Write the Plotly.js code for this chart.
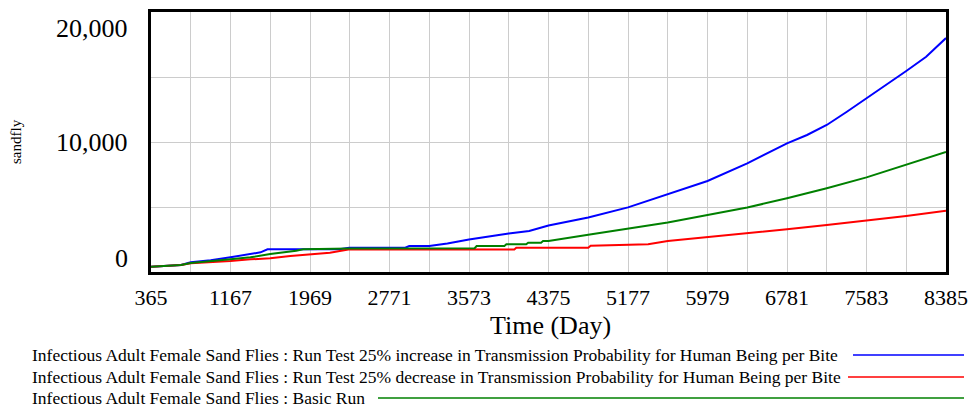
<!DOCTYPE html>
<html>
<head>
<meta charset="utf-8">
<script src="https://cdn.plot.ly/plotly-3.0.1.min.js"></script>
<style>
  html, body { margin: 0; padding: 0; background: #ffffff; }
  #chart { width: 977px; height: 410px; }
</style>
</head>
<body>
<div id="chart"></div>
<script>
// ---- Data ----
const blueDays = [365, 668, 766, 967, 1167, 1368, 1470, 1540, 2265, 2365, 2930, 2970, 3172, 3355, 3573, 3974, 4180, 4375, 4776, 5177, 5578, 5979, 6380, 6781, 6983, 7182, 7385, 7583, 7785, 7984, 8185, 8385];
const blueVals = [410, 540, 745, 900, 1130, 1360, 1515, 1745, 1745, 1870, 1870, 2000, 2000, 2200, 2500, 2960, 3150, 3580, 4200, 4970, 6000, 7000, 8350, 9900, 10540, 11310, 12330, 13360, 14380, 15460, 16560, 18000];

const redDays = [365, 668, 766, 967, 1167, 1368, 1568, 1770, 1969, 2170, 2370, 4030, 4050, 4776, 4800, 5177, 5380, 5578, 5979, 6380, 6781, 7182, 7583, 7984, 8385];
const redVals = [410, 540, 680, 745, 845, 975, 1050, 1230, 1380, 1480, 1745, 1730, 1870, 1870, 2020, 2070, 2130, 2380, 2670, 2950, 3280, 3610, 3950, 4310, 4720];

const greenDays = [365, 668, 766, 967, 1167, 1368, 1568, 1830, 1900, 2370, 3172, 3630, 3650, 3930, 3950, 4150, 4170, 4300, 4320, 4375, 4776, 5177, 5578, 5979, 6380, 6781, 7182, 7583, 7984, 8385];
const greenVals = [410, 540, 700, 820, 975, 1130, 1380, 1640, 1745, 1800, 1820, 1830, 2000, 2000, 2130, 2130, 2250, 2250, 2380, 2380, 2870, 3330, 3800, 4380, 4960, 5670, 6440, 7280, 8230, 9240];

const xTicks = [365, 1167, 1969, 2771, 3573, 4375, 5177, 5979, 6781, 7583, 8385];
const yGrid = [0, 5000, 10000, 15000, 20000];
const yLabelVals = [0, 10000, 20000];
const yLabelText = ['0', '10,000', '20,000'];

const seriesNames = [
  'Infectious Adult Female Sand Flies : Run Test 25% increase in Transmission Probability for Human Being per Bite',
  'Infectious Adult Female Sand Flies : Run Test 25% decrease in Transmission Probability for Human Being per Bite',
  'Infectious Adult Female Sand Flies : Basic Run'
];
const seriesColors = ['#0000ff', '#ff0000', '#008000'];

// ---- Layout helpers (pixel -> paper) ----
const PL = 151, PR = 946, PT = 12, PB = 272;
const px = x => (x - PL) / (PR - PL);
const py = y => (PB - y) / (PB - PT);
const FONT = 'Liberation Serif, Times New Roman, serif';

const traces = [
  {x: blueDays, y: blueVals, name: seriesNames[0], mode: 'lines', line: {color: seriesColors[0], width: 2}},
  {x: redDays, y: redVals, name: seriesNames[1], mode: 'lines', line: {color: seriesColors[1], width: 2}},
  {x: greenDays, y: greenVals, name: seriesNames[2], mode: 'lines', line: {color: seriesColors[2], width: 2}}
];

const annotations = [];
yLabelVals.forEach((v, i) => {
  const shift = v === 0 ? 14 : (v === 20000 ? -16 : 0);
  annotations.push({
    xref: 'paper', yref: 'y', x: 0, y: v, xanchor: 'right', yanchor: 'middle',
    xshift: -21, yshift: shift, text: yLabelText[i], showarrow: false,
    font: {family: FONT, size: 26, color: '#000'}
  });
});
annotations.push({
  xref: 'paper', yref: 'paper', x: px(16), y: py(142), xanchor: 'center', yanchor: 'middle',
  textangle: -90, text: 'sandfly', showarrow: false, font: {family: FONT, size: 15, color: '#000'}
});
annotations.push({
  xref: 'paper', yref: 'paper', x: px(550), y: py(325), xanchor: 'center', yanchor: 'middle',
  text: 'Time (Day)', showarrow: false, font: {family: FONT, size: 26, color: '#000'}
});

const legendY = [355, 377, 398];
const legendLineStart = [853, 848, 378];
const shapes = [];
seriesNames.forEach((n, i) => {
  annotations.push({
    xref: 'paper', yref: 'paper', x: px(30), y: py(legendY[i]), xanchor: 'left', yanchor: 'middle',
    text: n, showarrow: false, font: {family: FONT, size: 17.5, color: '#000'}
  });
  shapes.push({
    type: 'line', xref: 'paper', yref: 'paper',
    x0: px(legendLineStart[i]), x1: px(964), y0: py(legendY[i]), y1: py(legendY[i]),
    line: {color: seriesColors[i], width: 1.5}
  });
});

const layout = {
  width: 977, height: 410,
  margin: {l: PL, r: 977 - PR, t: PT, b: 410 - PB, pad: 0},
  paper_bgcolor: '#ffffff', plot_bgcolor: '#ffffff',
  showlegend: false,
  xaxis: {
    range: [365, 8385], tickvals: xTicks, ticktext: xTicks.map(String),
    showgrid: true, gridcolor: '#cccccc', gridwidth: 1,
    minor: {dtick: 401, tick0: 365, showgrid: true, gridcolor: '#cccccc', gridwidth: 1, ticklen: 0},
    showline: true, linecolor: '#000', linewidth: 3, mirror: true,
    ticks: '', zeroline: false, ticklabelstandoff: 4,
    tickfont: {family: FONT, size: 22, color: '#000'}
  },
  yaxis: {
    range: [0, 20000], tickvals: yGrid, showticklabels: false,
    showgrid: true, gridcolor: '#cccccc', gridwidth: 1,
    showline: true, linecolor: '#000', linewidth: 3, mirror: true,
    ticks: '', zeroline: false
  },
  annotations: annotations,
  shapes: shapes
};

Plotly.newPlot('chart', traces, layout, {staticPlot: true, displayModeBar: false});
</script>
</body>
</html>
